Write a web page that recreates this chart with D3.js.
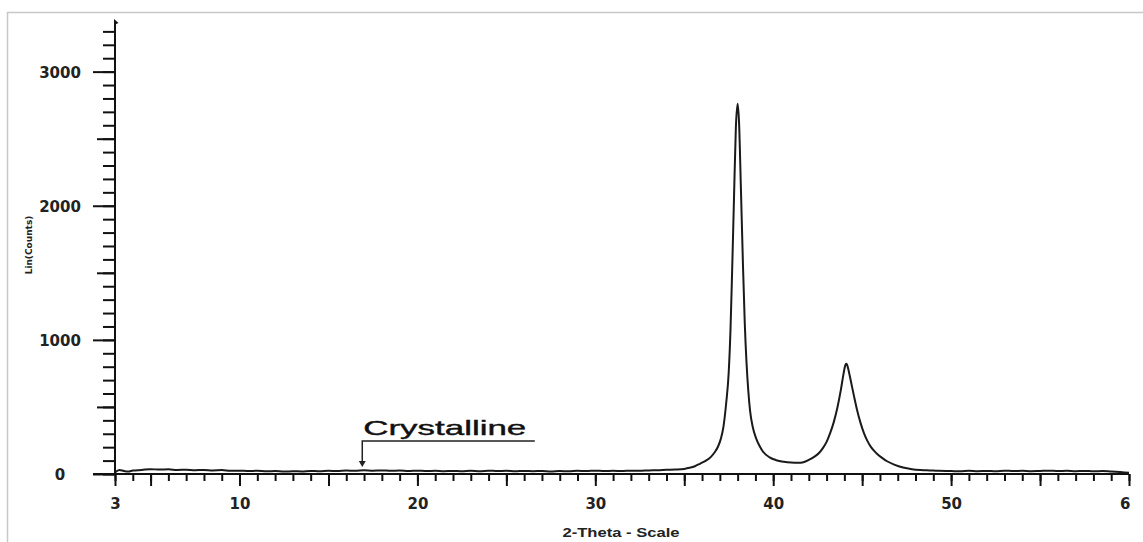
<!DOCTYPE html>
<html>
<head>
<meta charset="utf-8">
<script src="https://cdn.jsdelivr.net/npm/d3@7"></script>
<style>
  html, body { margin: 0; padding: 0; background: #fff; }
  svg { display: block; }
</style>
</head>
<body>
<div class="graph"></div>
<script>
// 2-Theta positions (deg) and intensities (Lin counts)
var twoTheta = [
  3.0, 3.25, 3.5, 3.75, 4.0, 4.5, 5.0, 5.5, 6.0, 6.5, 7.0, 7.5, 8.0, 8.5, 9.0, 9.5,
  10.0, 10.5, 11.0, 11.5, 12.0, 12.5, 13.0, 13.5, 14.0, 14.5, 15.0, 15.5, 16.0, 16.5,
  17.0, 17.5, 18.0, 18.5, 19.0, 19.5, 20.0, 20.5, 21.0, 21.5, 22.0, 22.5, 23.0, 23.5,
  24.0, 24.5, 25.0, 25.5, 26.0, 26.5, 27.0, 27.5, 28.0, 28.5, 29.0, 29.5, 30.0, 30.5,
  31.0, 31.5, 32.0, 32.5, 33.0, 33.5, 34.0, 34.5, 35.0, 35.3, 35.6, 35.9, 36.2, 36.5,
  36.7, 36.9, 37.05, 37.2, 37.35, 37.5, 37.6, 37.7, 37.8, 37.9, 38.0, 38.08, 38.18,
  38.3, 38.4, 38.5, 38.6, 38.7, 38.85, 39.05, 39.25, 39.42, 39.8, 40.17, 40.6, 41.0,
  41.4, 41.7, 42.0, 42.3, 42.6, 42.8, 43.0, 43.2, 43.4, 43.6, 43.8, 43.95, 44.05,
  44.1, 44.15, 44.25, 44.4, 44.55, 44.7, 44.9, 45.1, 45.3, 45.5, 45.8, 46.1, 46.4,
  46.8, 47.3, 47.8, 48.3, 48.8, 49.3,
  50.0, 50.5, 51.0, 51.5, 52.0, 52.5, 53.0, 53.5, 54.0, 54.5, 55.0, 55.5, 56.0, 56.5,
  57.0, 57.5, 58.0, 58.5, 59.0, 59.5, 60.0
];
var counts = [
  12, 30, 22, 18, 26, 30, 36, 33, 35, 30, 32, 28, 30, 27, 29, 24,
  25, 22, 24, 20, 22, 18, 21, 19, 23, 20, 24, 22, 26, 24,
  28, 25, 27, 24, 26, 22, 25, 22, 24, 21, 23, 20, 24, 21,
  25, 22, 24, 20, 23, 21, 22, 19, 22, 20, 24, 22, 25, 22,
  24, 22, 25, 24, 27, 28, 31, 33, 38, 46, 58, 78, 98, 128,
  160, 205, 260, 350, 520, 760, 1080, 1560, 2080, 2580, 2760, 2620, 2150,
  1560, 1130, 830, 620, 470, 350, 262, 205, 168, 124, 103, 91, 85,
  83, 88, 105, 128, 160, 195, 240, 305, 385, 490, 625, 745, 810,
  822, 815, 765, 670, 575, 485, 385, 305, 245, 200, 155, 122, 95,
  70, 48, 36, 30, 27, 24,
  22, 20, 24, 21, 23, 20, 25, 22, 24, 21, 23, 25, 22, 24,
  21, 23, 20, 22, 18, 14, 10
];

// axis ticks
var yMinorTicks = d3.range(0, 3301, 100);
var yMidTicks = [500, 1500, 2500];
var yMajorTicks = [0, 1000, 2000, 3000];
var xMinorTicks = d3.range(3, 61, 1);
var xMajorTicks = [3, 5, 10, 15, 20, 25, 30, 35, 40, 45, 50, 55, 60];
var xLabelTicks = [3, 10, 20, 30, 40, 50, 60];
var xLabelText = ["3", "10", "20", "30", "40", "50", "6"];

// annotation
var noteText = "Crystalline";
var noteAt = 16.9;

var width = 1143,
    height = 542;

var x = d3.scaleLinear().domain([3, 60]).range([115, 1129]);
var y = d3.scaleLinear().domain([0, 3370]).range([474, 22]);

var svg = d3.select(".graph").append("svg")
    .attr("width", width)
    .attr("height", height);

// light frame around the plot picture
svg.append("path")
    .attr("d", "M7.5," + height + "V12.5H" + width)
    .attr("fill", "none")
    .attr("stroke", "#c8c8c8")
    .attr("stroke-width", 1.5);

var tickFont = "'DejaVu Sans', Verdana, sans-serif";

// ---- Y axis ----
function yTicks(values, size) {
    return svg.append("g")
        .attr("transform", "translate(" + x(3) + ",0)")
        .call(d3.axisLeft(y).tickValues(values).tickSize(size).tickSizeOuter(0).tickFormat(""))
        .call(function(g) { g.select(".domain").remove(); });
}
yTicks(yMinorTicks, 12);
yTicks(yMidTicks, 18);
var yMajor = yTicks(yMajorTicks, 22);
yMajor.selectAll(".tick text")
    .text(function(d) { return d; })
    .attr("x", 60 - x(3))
    .attr("dy", "0.36em")
    .attr("text-anchor", "middle")
    .style("font-family", tickFont)
    .style("font-weight", "bold")
    .style("font-size", "15px")
    .style("fill", "#222");

svg.append("line")
    .attr("x1", x(3)).attr("x2", x(3))
    .attr("y1", y(0)).attr("y2", y(3370))
    .attr("stroke", "#111")
    .attr("stroke-width", 2);

// little arrow cap at the top of the y axis
svg.append("path")
    .attr("d", "M" + (x(3) - 1) + "," + (y(3370) - 3) +
               "L" + (x(3) + 3.5) + "," + (y(3370) + 1) +
               "L" + (x(3) - 1) + "," + (y(3370) + 3) + "Z")
    .attr("fill", "#111");

svg.append("text")
    .attr("transform", "translate(32," + 245 + ") rotate(-90)")
    .attr("text-anchor", "middle")
    .style("font-family", tickFont)
    .style("font-weight", "bold")
    .style("font-size", "9px")
    .style("fill", "#222")
    .text("Lin(Counts)");

// ---- X axis ----
function xTicks(values, size) {
    return svg.append("g")
        .attr("transform", "translate(0," + y(0) + ")")
        .call(d3.axisBottom(x).tickValues(values).tickSize(size).tickSizeOuter(0).tickFormat(""))
        .call(function(g) { g.select(".domain").remove(); });
}
xTicks(xMinorTicks, 7);
xTicks(xMajorTicks, 12);
var xLab = svg.append("g")
    .attr("transform", "translate(0," + y(0) + ")")
    .call(d3.axisBottom(x).tickValues(xLabelTicks).tickSize(0)
        .tickFormat(function(d, i) { return xLabelText[i]; }))
    .call(function(g) { g.select(".domain").remove(); });
xLab.selectAll(".tick text")
    .attr("y", 35)
    .attr("dy", 0)
    .attr("text-anchor", function(d) { return d === 60 ? "end" : "middle"; })
    .attr("x", function(d) { return d === 60 ? 1 : 0; })
    .style("font-family", tickFont)
    .style("font-weight", "bold")
    .style("font-size", "15px")
    .style("fill", "#222");

svg.selectAll(".tick line")
    .attr("stroke", "#111")
    .attr("stroke-width", 2);

svg.append("line")
    .attr("x1", x(3) - 22).attr("x2", x(60))
    .attr("y1", y(0)).attr("y2", y(0))
    .attr("stroke", "#111")
    .attr("stroke-width", 2);

svg.append("text")
    .attr("x", 621)
    .attr("y", 537)
    .attr("text-anchor", "middle")
    .attr("textLength", 117)
    .attr("lengthAdjust", "spacingAndGlyphs")
    .style("font-family", "'Liberation Sans', Arial, sans-serif")
    .style("font-weight", "bold")
    .style("font-size", "12.5px")
    .style("fill", "#222")
    .text("2-Theta - Scale");

// ---- Pattern ----
var points = twoTheta.map(function(t, i) { return [t, counts[i]]; });

var line = d3.line()
    .x(function(d) { return x(d[0]); })
    .y(function(d) { return y(d[1]); })
    .curve(d3.curveMonotoneX);

svg.append("path")
    .datum(points)
    .attr("d", line)
    .attr("fill", "none")
    .attr("stroke", "#1a1a1a")
    .attr("stroke-width", 2)
    .attr("stroke-linejoin", "round");

// ---- Annotation ----
var ax = x(noteAt);
var underY = y(0) - 33;
svg.append("text")
    .attr("x", ax + 1)
    .attr("y", underY - 6)
    .attr("textLength", 163)
    .attr("lengthAdjust", "spacingAndGlyphs")
    .style("font-family", "'Liberation Sans', Arial, sans-serif")
    .style("font-size", "21px")
    .style("fill", "#111")
    .style("stroke", "#111")
    .style("stroke-width", 0.4)
    .text(noteText);

svg.append("path")
    .attr("d", "M" + x(26.6) + "," + underY + "H" + ax + "V" + (y(0) - 12))
    .attr("fill", "none")
    .attr("stroke", "#222")
    .attr("stroke-width", 1.5);

svg.append("path")
    .attr("d", "M" + (ax - 3.5) + "," + (y(0) - 13) + "L" + (ax + 3.5) + "," + (y(0) - 13) +
               "L" + ax + "," + (y(0) - 7) + "Z")
    .attr("fill", "#222");
</script>
</body>
</html>
